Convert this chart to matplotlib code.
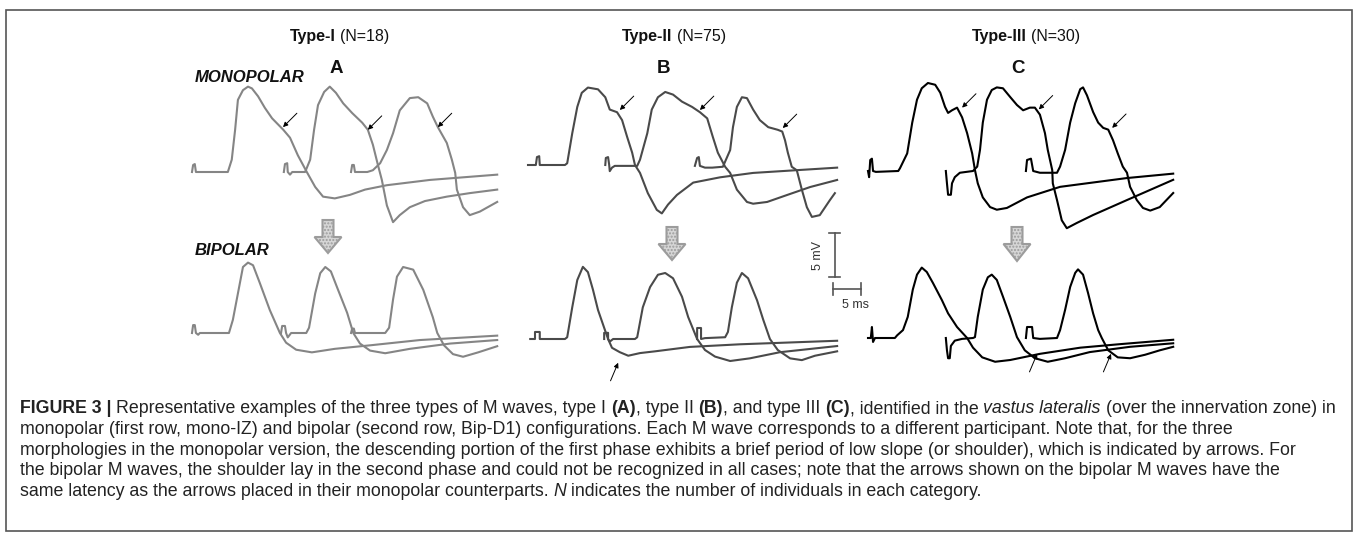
import matplotlib
matplotlib.use('Agg')
import numpy as np
import matplotlib.pyplot as plt
from matplotlib import font_manager
from matplotlib.patches import Polygon, Rectangle

plt.rcParams['font.family'] = ['Liberation Sans', 'DejaVu Sans']

W, H = 1358, 538
PX_MS = 5.6   # pixels per ms (5 ms bar = 28 px)
PX_MV = 8.8   # pixels per mV (5 mV bar = 44 px)

# ---- M-wave traces, (time ms, amplitude mV) ----
# Type I, monopolar
a_mono_1 = [(0, 0), (0.2, 0.8), (0.5, 0.9), (0.7, 0), (1.1, 0), (6.4, 0), (7.1, 1.4), (7.7, 4.8),
            (8.2, 8.2), (9.1, 9.3), (10.0, 9.7), (10.7, 9.5), (11.8, 8.6), (13.0, 7.3), (14.3, 6.1),
            (16.3, 4.8), (17.5, 3.9), (18.9, 1.9), (20.5, 0), (22.0, -1.7), (23.4, -2.8), (25.5, -3.0),
            (28.2, -2.6), (30.9, -2.0), (34.8, -1.5), (42.5, -0.9), (54.5, -0.3)]
a_mono_2 = [(16.4, 0), (16.6, 0.9), (17.0, 1.0), (17.1, 0), (17.5, -0.3), (17.9, 0), (20.2, 0),
            (21.1, 1.4), (21.8, 4.8), (22.5, 7.6), (23.6, 9.1), (24.6, 9.7), (25.7, 9.0), (27.0, 7.8),
            (28.6, 6.7), (30.4, 5.6), (31.4, 4.8), (32.3, 3.1), (33.2, 0.8), (33.9, -0.9), (34.8, -3.8),
            (35.9, -5.7), (37.1, -4.9), (38.9, -4.0), (41.6, -3.3), (45.5, -2.8), (49.6, -2.4), (54.5, -2.0)]
a_mono_3 = [(28.4, 0), (28.6, 0.8), (28.9, 0.8), (29.1, 0), (31.3, 0), (32.3, 0.2), (33.6, 1.0),
            (34.8, 2.5), (35.9, 4.4), (37.1, 7.0), (38.9, 8.4), (40.4, 8.5), (42.0, 7.8), (43.0, 6.3),
            (43.9, 5.1), (45.5, 3.3), (46.4, 1.4), (47.0, -0.1), (47.3, -2.0), (48.4, -4.0), (49.6, -4.9),
            (51.4, -4.5), (54.5, -3.4)]
# Type I, bipolar
a_bip_1 = [(0, 0), (0.2, 0.9), (0.5, 0.9), (0.7, 0), (1.1, -0.2), (1.4, 0), (6.6, 0), (7.3, 1.5),
           (8.2, 4.5), (9.1, 7.5), (10.0, 8.0), (10.9, 7.7), (12.1, 5.7), (13.9, 2.6), (15.7, 0),
           (16.8, -1.1), (18.6, -1.9), (21.4, -2.2), (25.5, -1.8), (31.8, -1.4), (40.7, -0.8), (54.5, -0.3)]
a_bip_2 = [(15.9, 0), (16.1, 0.8), (16.6, 0.8), (16.8, 0), (17.1, -0.5), (17.7, 0), (20.4, 0),
           (20.9, 0.6), (22.0, 4.5), (22.9, 6.8), (23.8, 7.5), (24.8, 7.0), (25.9, 5.2), (27.7, 2.3),
           (28.8, 0), (30.0, -1.2), (31.8, -2.0), (34.5, -2.3), (38.9, -1.8), (46.1, -1.2), (54.5, -0.8)]
a_bip_3 = [(28.4, 0), (28.6, 0.5), (28.9, 0.5), (29.1, 0), (34.5, 0), (35.2, 0.6), (35.9, 3.8),
           (36.6, 6.4), (37.7, 7.5), (39.5, 7.2), (41.3, 4.9), (43.0, 1.8), (43.8, 0), (45.0, -1.4),
           (46.6, -2.4), (48.4, -2.7), (51.1, -2.2), (54.5, -1.5)]
# Type II, monopolar
b_mono_1 = [(0, 0), (1.4, 0), (1.6, 0.9), (2.0, 1.0), (2.1, 0), (6.6, 0), (7.0, 0.2), (7.9, 3.6),
            (8.8, 6.6), (9.6, 8.2), (10.7, 8.8), (12.5, 8.6), (13.8, 7.7), (14.6, 6.3), (15.9, 6.0),
            (16.8, 5.1), (17.7, 3.2), (18.6, 1.4), (19.1, 0), (20.0, -0.9), (21.4, -3.2), (23.0, -5.1),
            (23.9, -5.5), (25.0, -4.5), (26.6, -3.4), (29.5, -2.0), (34.3, -1.4), (40.2, -0.9), (55.2, -0.3)]
b_mono_2 = [(13.8, 0), (13.9, 0.8), (14.3, 0.9), (14.5, 0), (14.6, -0.7), (15.0, -0.3), (15.5, -0.1),
            (19.5, -0.1), (20.0, 0.6), (21.3, 3.6), (22.1, 6.3), (23.2, 7.7), (24.5, 8.3), (25.9, 8.0),
            (27.5, 7.2), (29.3, 6.6), (30.7, 6.0), (32.0, 5.3), (33.0, 3.2), (33.9, 1.4), (35.2, -0.2),
            (36.1, -0.9), (37.3, -2.8), (39.1, -4.2), (40.2, -4.4), (42.7, -4.2), (46.3, -3.4),
            (50.4, -2.5), (55.2, -1.7)]
b_mono_3 = [(29.8, -0.1), (30.2, 0.8), (30.5, 0.9), (30.7, -0.1), (31.6, -0.3), (32.9, -0.3),
            (34.8, -0.2), (36.1, 1.7), (36.6, 4.3), (37.3, 6.6), (38.2, 7.7), (39.1, 7.6), (40.2, 6.3),
            (41.4, 5.1), (42.9, 4.3), (44.6, 4.0), (45.4, 3.8), (45.9, 2.8), (46.4, 1.4), (47.1, -0.2),
            (48.0, -0.6), (48.9, -2.8), (49.8, -4.8), (50.7, -5.9), (52.1, -5.7), (53.9, -4.0), (54.8, -3.2)]
# Type II, bipolar
b_bip_1 = [(0.4, 0), (1.25, 0), (1.25, 0.8), (2.1, 0.8), (2.1, 0), (6.6, 0), (7.0, 0.2), (7.9, 3.6),
           (8.8, 6.7), (9.8, 8.2), (10.7, 7.6), (11.6, 5.6), (12.5, 3.3), (13.75, 1.0), (14.3, 0),
           (15.0, -1.0), (16.4, -1.5), (17.9, -1.9), (20.0, -1.6), (22.7, -1.4), (28.9, -0.9),
           (37.9, -0.6), (55.2, -0.2)]
b_bip_2 = [(13.6, 0), (13.6, 0.7), (14.3, 0.7), (14.3, 0), (14.6, -0.3), (15.2, 0), (19.1, 0),
           (19.5, 0.2), (20.5, 3.6), (21.8, 5.9), (23.2, 7.3), (24.5, 7.5), (25.9, 6.9), (27.5, 4.8),
           (28.6, 2.5), (30.2, 0), (31.6, -1.25), (33.4, -2.0), (36.1, -2.5), (39.6, -2.2), (45.0, -1.5),
           (55.2, -0.8)]
b_bip_3 = [(30.2, 0), (30.2, 1.25), (30.9, 1.25), (30.9, 0), (31.6, 0.1), (35.2, 0.2), (35.7, 0.8),
           (36.4, 3.6), (37.3, 6.4), (38.2, 7.5), (39.3, 6.9), (40.9, 4.4), (42.0, 2.2), (43.2, 0),
           (44.6, -1.25), (46.8, -2.2), (48.9, -2.4), (51.25, -1.9), (55.2, -1.4)]
# Type III, monopolar
c_mono_1 = [(0, 0), (0.2, -0.7), (0.4, 1.25), (0.7, 1.4), (0.9, 0), (1.4, -0.1), (5.4, 0), (5.7, 0.3),
            (7.0, 2.0), (7.9, 5.5), (8.75, 8.1), (9.6, 9.4), (10.7, 10.0), (12.0, 9.8), (12.9, 8.9),
            (13.75, 7.3), (14.3, 6.6), (15.0, 6.9), (15.9, 7.2), (16.8, 6.1), (17.7, 4.3), (18.6, 2.0),
            (19.1, 0.1), (19.6, -1.4), (20.5, -3.0), (21.8, -4.1), (23.0, -4.4), (24.8, -4.2),
            (28.4, -3.0), (34.3, -1.8), (46.25, -0.8), (54.5, -0.3)]
c_mono_2 = [(13.9, 0), (14.1, -1.4), (14.3, -2.7), (14.8, -2.7), (15.0, -1.4), (15.5, -0.7),
            (16.4, -0.2), (18.75, 0), (19.5, 0.5), (20.0, 2.4), (20.5, 5.5), (21.25, 8.1), (22.1, 9.2),
            (23.0, 9.5), (24.1, 9.4), (25.4, 8.4), (26.6, 7.5), (27.7, 6.9), (28.9, 7.2), (29.8, 7.2),
            (30.7, 6.4), (31.6, 4.3), (32.1, 2.4), (32.9, 0.1), (33.0, -1.4), (33.75, -3.3), (34.6, -5.6),
            (35.5, -6.5), (37.3, -5.9), (40.2, -5.0), (46.25, -3.3), (54.5, -1.0)]
c_mono_3 = [(28.2, 0), (28.4, 1.25), (29.1, 1.4), (29.5, 0), (30.7, -0.2), (33.75, -0.2), (34.3, 0.5),
            (35.2, 2.4), (36.1, 5.5), (37.0, 7.7), (37.9, 9.3), (38.4, 9.5), (39.1, 8.6), (40.2, 6.7),
            (41.1, 5.5), (42.0, 4.9), (42.9, 4.7), (43.75, 3.5), (44.6, 2.0), (45.5, 0.5), (46.25, -0.2),
            (46.8, -1.8), (48.0, -3.3), (49.1, -4.2), (50.4, -4.5), (52.1, -4.1), (54.5, -2.5)]
# Type III, bipolar
c_bip_1 = [(0, 0), (0.5, 0), (0.7, 1.25), (0.9, -0.45), (1.25, 0), (4.8, 0), (5.2, 0.3), (6.25, 0.9),
           (7.1, 2.4), (8.0, 5.5), (8.75, 7.2), (9.6, 8.0), (10.5, 7.5), (11.6, 6.25), (13.2, 4.3),
           (14.3, 2.8), (15.9, 1.25), (17.7, 0), (18.75, -1.1), (20.4, -2.2), (22.7, -2.7), (25.4, -2.5),
           (30.7, -1.8), (37.9, -1.1), (45.0, -0.7), (54.5, -0.2)]
c_bip_2 = [(13.9, 0), (14.1, -1.4), (14.3, -2.3), (14.6, -2.3), (14.8, -0.9), (15.5, -0.3),
           (16.8, -0.1), (18.75, 0), (19.1, 0.1), (19.6, 2.4), (20.5, 5.5), (21.4, 6.9), (22.1, 7.2),
           (23.0, 6.6), (24.1, 4.7), (25.4, 2.4), (26.6, 0.1), (28.0, -1.4), (29.8, -2.3), (32.1, -2.7),
           (35.2, -2.3), (39.6, -1.6), (46.8, -1.0), (54.5, -0.6)]
c_bip_3 = [(28.2, 0), (28.4, 1.25), (29.3, 1.25), (29.5, 0), (30.7, -0.1), (33.75, 0), (34.3, 0.9),
           (35.2, 3.2), (36.1, 5.8), (37.0, 7.4), (37.5, 7.8), (38.4, 7.2), (39.3, 5.1), (40.2, 2.8),
           (41.1, 0.9), (41.75, 0), (42.9, -1.4), (44.6, -2.2), (46.8, -2.3), (49.5, -1.9), (52.1, -1.4),
           (54.5, -1.0)]

# shoulder markers (ms, mV)
a_mono_arrows = [(16.25, 5.1), (31.4, 4.8), (43.9, 5.1)]
b_mono_arrows = [(16.4, 6.25), (30.7, 6.25), (45.5, 4.2)]
c_mono_arrows = [(16.8, 7.2), (30.5, 7.0), (43.6, 4.9)]
b_bip_arrows = [(16.1, -2.7)]
c_bip_arrows = [(30.2, -1.8), (43.4, -1.8)]

titles = ['Type-I', 'Type-II', 'Type-III']
counts = ['(N=18)', '(N=75)', '(N=30)']
letters = ['A', 'B', 'C']

caption = [
    [('FIGURE 3 |', 'b'), (' Representative examples of the three types of M waves, type I ', 'n'),
     ('(A)', 'b'), (', type II ', 'n'), ('(B)', 'b'), (', and type III ', 'n'), ('(C)', 'b'),
     (', identified in the ', 'n'), ('vastus lateralis', 'i'), (' (over the innervation zone) in', 'n')],
    [('monopolar (first row, mono-IZ) and bipolar (second row, Bip-D1) configurations. Each M wave '
      'corresponds to a different participant. Note that, for the three', 'n')],
    [('morphologies in the monopolar version, the descending portion of the first phase exhibits a '
      'brief period of low slope (or shoulder), which is indicated by arrows. For', 'n')],
    [('the bipolar M waves, the shoulder lay in the second phase and could not be recognized in all '
      'cases; note that the arrows shown on the bipolar M waves have the', 'n')],
    [('same latency as the arrows placed in their monopolar counterparts. ', 'n'), ('N', 'i'),
     (' indicates the number of individuals in each category.', 'n')],
]

fig = plt.figure(figsize=(W / 100, H / 100), dpi=100)
fig.patch.set_facecolor('white')
renderer = fig.canvas.get_renderer()


def fx(x):
    return x / W


def fy(y):
    return 1 - y / H


bg = fig.add_axes([0, 0, 1, 1])
bg.set_xlim(0, W)
bg.set_ylim(H, 0)
bg.axis('off')
bg.add_patch(Rectangle((6, 10), 1346, 521, fill=False, ec='#555555', lw=1.2))


def panel_ax(x0, base):
    ax = fig.add_axes([x0 / W, 1 - (base + 8 * PX_MV) / H, 55 * PX_MS / W, 20 * PX_MV / H])
    ax.set_xlim(0, 55)
    ax.set_ylim(-8, 12)
    ax.axis('off')
    return ax


def draw_traces(ax, traces, color):
    for tr in traces:
        t, v = np.array(tr).T
        ax.plot(t, v, color=color, lw=1.5, clip_on=False, solid_joinstyle='round')


def draw_marks(ax, tips, dx, dy):
    for t, v in tips:
        ax.annotate('', xy=(t, v), xytext=(dx, dy), textcoords='offset points',
                    arrowprops=dict(arrowstyle='-|>', color='black', lw=0.7,
                                    mutation_scale=7, shrinkA=0, shrinkB=0))


panels = [
    (192, 172, 333, '#858585', [a_mono_1, a_mono_2, a_mono_3], [a_bip_1, a_bip_2, a_bip_3],
     a_mono_arrows, []),
    (528, 165, 339, '#4a4a4a', [b_mono_1, b_mono_2, b_mono_3], [b_bip_1, b_bip_2, b_bip_3],
     b_mono_arrows, b_bip_arrows),
    (868, 171, 338, '#000000', [c_mono_1, c_mono_2, c_mono_3], [c_bip_1, c_bip_2, c_bip_3],
     c_mono_arrows, c_bip_arrows),
]

bip_axes = []
for x0, base_m, base_b, color, mono, bip, m_arr, b_arr in panels:
    ax_m = panel_ax(x0, base_m)
    draw_traces(ax_m, mono, color)
    draw_marks(ax_m, m_arr, 10, 10)
    ax_b = panel_ax(x0, base_b)
    draw_traces(ax_b, bip, color)
    draw_marks(ax_b, b_arr, -5.5, -13)
    bip_axes.append(ax_b)

# scale bars (in panel B bipolar axes)
sb = bip_axes[1]
sb.plot([54.8, 54.8], [7.1, 12.1], color='#555555', lw=1.2, clip_on=False)
for yv in (7.1, 12.1):
    sb.plot([53.8, 55.8], [yv, yv], color='#555555', lw=1.2, clip_on=False)
sb.plot([54.5, 59.5], [5.7, 5.7], color='#555555', lw=1.2, clip_on=False)
for xv in (54.5, 59.5):
    sb.plot([xv, xv], [5.0, 6.4], color='#555555', lw=1.2, clip_on=False)
fig.text(fx(818), fy(255), '5 mV', rotation=90, ha='center', va='center', fontsize=9, color='#333333')
fig.text(fx(855), fy(305), '5 ms', ha='center', va='center', fontsize=9, color='#333333')

# down arrows between rows
for cx, yt, yh, yb in [(328, 220, 237, 253), (672, 227, 244, 260), (1017, 227, 244, 261)]:
    pts = [(cx - 5.5, yt), (cx + 5.5, yt), (cx + 5.5, yh), (cx + 13.5, yh), (cx, yb),
           (cx - 13.5, yh), (cx - 5.5, yh)]
    bg.add_patch(Polygon(pts, closed=True, fc='#d6d6d6', ec='#9c9c9c', lw=1.5, hatch='.....'))

STY = {'n': {}, 'b': {'fontweight': 'bold'}, 'i': {'fontstyle': 'italic'},
       'bi': {'fontweight': 'bold', 'fontstyle': 'italic'}}


def text_w(s, size, family, st):
    t = fig.text(0, 0, s, fontsize=size, family=family, **STY[st])
    w = t.get_window_extent(renderer).width
    t.remove()
    return w


def draw_runs(x, y, runs, size, family, color='#222222', measure=False):
    sp = text_w('a a', size, family, 'n') - text_w('aa', size, family, 'n')
    for s, st in runs:
        if s.startswith(' '):
            x += sp
        core = s.strip()
        if core:
            t = fig.text(fx(x), fy(y), core, fontsize=size, family=family, color=color,
                         ha='left', va='baseline', **STY[st])
            x += t.get_window_extent(renderer).width
            if measure:
                t.remove()
        if s.endswith(' ') and core:
            x += sp
    return x


# headers
for (x, title, cnt) in zip([290, 622, 972], titles, counts):
    draw_runs(x, 41, [(title, 'b'), (' ' + cnt, 'n')], 11.5, 'Liberation Sans', color='#111111')
for cx, let in zip([336, 664, 1018], letters):
    fig.text(fx(cx), fy(73), let, ha='center', va='baseline', fontsize=13.5,
             fontweight='bold', color='#111111')
fig.text(fx(195), fy(82), 'MONOPOLAR', ha='left', va='baseline', fontsize=12,
         fontweight='bold', fontstyle='italic', color='#111111')
fig.text(fx(195), fy(255), 'BIPOLAR', ha='left', va='baseline', fontsize=12,
         fontweight='bold', fontstyle='italic', color='#111111')

# caption
names = {f.name for f in font_manager.fontManager.ttflist}
cap_font = 'Liberation Sans Narrow' if 'Liberation Sans Narrow' in names else 'Liberation Sans'
base_size = 12
nat = draw_runs(20, 413, caption[0], base_size, cap_font, measure=True) - 20
cap_size = base_size * 1318 / nat
for i, line in enumerate(caption):
    draw_runs(20, 413 + i * 20.8, line, cap_size, cap_font)

fig.savefig('out.png', dpi=100)
